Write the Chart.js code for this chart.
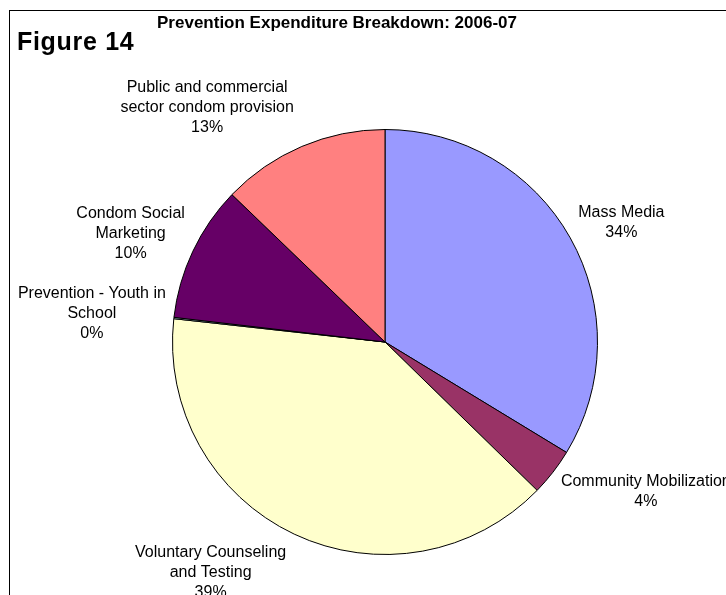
<!DOCTYPE html>
<html>
<head>
<meta charset="utf-8">
<script src="https://cdn.jsdelivr.net/npm/chart.js@4.4.1/dist/chart.umd.min.js"></script>
<style>
  html, body { margin: 0; padding: 0; background: #fff; overflow: hidden; }
  #wrap { position: relative; width: 726px; height: 595px; overflow: hidden; font-family: "Liberation Sans", Arial, sans-serif; }
  #frame { position: absolute; left: 9px; top: 10px; width: 740px; height: 600px; border-left: 1px solid #000; border-top: 1px solid #000; }
  #canvas { position: absolute; left: 0; top: 0; }
  #title { position: absolute; left: 0; top: 13px; width: 674px; text-align: center; font-weight: bold; font-size: 17px; line-height: 20px; }
  #figure { position: absolute; left: 17px; top: 26px; font-weight: bold; font-size: 25px; line-height: 30px; letter-spacing: 0.7px; }
</style>
</head>
<body>
<div id="wrap">
  <div id="frame"></div>
  <canvas id="canvas" width="726" height="595"></canvas>
  <div id="title">Prevention Expenditure Breakdown: 2006-07</div>
  <div id="figure">Figure 14</div>
</div>
<script>
// données (parts en %)
const categories = [
    ['Mass Media'],
    ['Community Mobilization'],
    ['Voluntary Counseling', 'and Testing'],
    ['Prevention - Youth in', 'School'],
    ['Condom Social', 'Marketing'],
    ['Public and commercial', 'sector condom provision']
];
const values = [33.7, 3.6, 39.45, 0.1, 10.35, 12.8];
const colors = ['#9999FF', '#993366', '#FFFFCC', '#CCFFFF', '#660066', '#FF8080'];

const LABEL_FONT = '16px "Liberation Sans", Arial, sans-serif';
const LINE_H = 20;
const GAP_X = 8;
const GAP_Y = 12;

const total = values.reduce((a, b) => a + b, 0);

const ctx = document.getElementById('canvas').getContext('2d');
const pieChart = new Chart(ctx, {
    type: 'pie',
    data: {
        labels: categories.map(c => c.join(' ')),
        datasets: [{
            data: values,
            backgroundColor: colors,
            borderColor: '#000',
            borderWidth: 1
        }]
    },
    options: {
        responsive: false,
        animation: false,
        layout: { padding: { left: 172, right: 128, top: 129, bottom: 40 } },
        plugins: { legend: { display: false }, tooltip: { enabled: false } }
    },
    plugins: [{
        id: 'outsideLabels',
        afterDatasetsDraw(chart) {
            const { ctx } = chart;
            const arcs = chart.getDatasetMeta(0).data;
            ctx.save();
            ctx.font = LABEL_FONT;
            ctx.fillStyle = '#000';
            ctx.textAlign = 'center';
            ctx.textBaseline = 'middle';
            arcs.forEach((arc, i) => {
                const lines = categories[i].concat([Math.round(values[i] / total * 100) + '%']);
                const w = Math.max(...lines.map(l => ctx.measureText(l).width));
                const h = lines.length * LINE_H;
                const mid = (arc.startAngle + arc.endAngle) / 2;
                const dx = Math.cos(mid), dy = Math.sin(mid);
                // point du bord au milieu de la part, puis boite posee a cote (facon Excel)
                const px = arc.x + dx * arc.outerRadius;
                const py = arc.y + dy * arc.outerRadius;
                const cx = px + Math.sign(dx) * (w / 2 + GAP_X);
                const cy = py + dy * (h / 2 + GAP_Y);
                lines.forEach((l, k) => {
                    ctx.fillText(l, cx, cy - h / 2 + LINE_H * (k + 0.5));
                });
            });
            ctx.restore();
        }
    }]
});
</script>
</body>
</html>
